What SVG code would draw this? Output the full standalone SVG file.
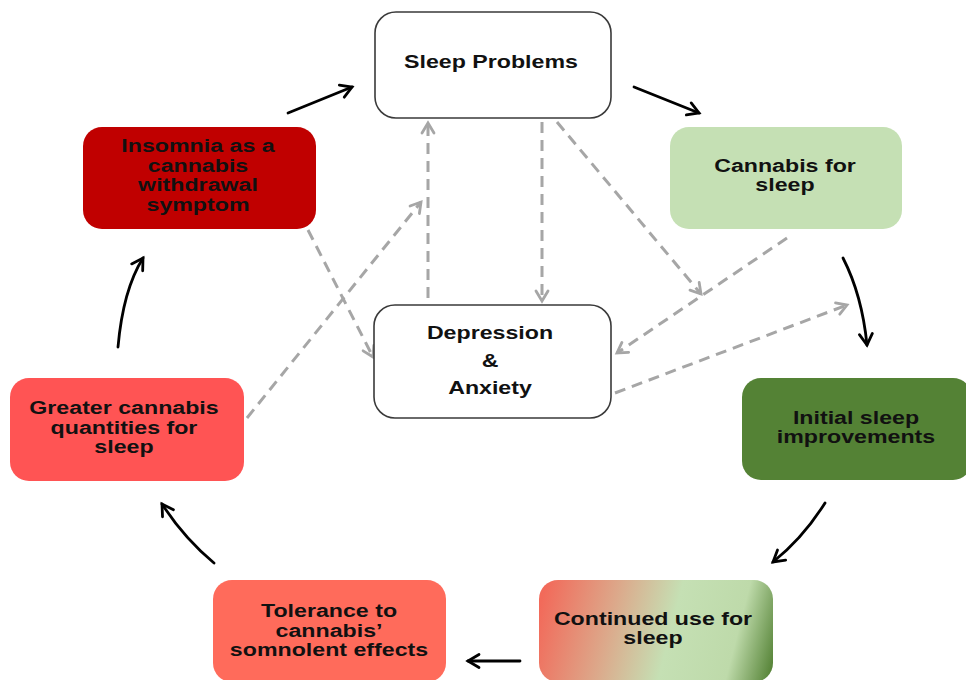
<svg xmlns="http://www.w3.org/2000/svg" width="966" height="680" viewBox="0 0 966 680">
<style>
.lbl{font-family:"Liberation Sans",Arial,sans-serif;font-weight:bold;font-size:19px;fill:#111;text-anchor:middle}
.outline{fill:#fff;stroke:#3a3a3a;stroke-width:1.6}
.solid{fill:none;stroke:#000;stroke-width:2.8;stroke-linecap:round}
.dash{fill:none;stroke:#a6a6a6;stroke-width:3;stroke-dasharray:11 7}
</style>
<defs>
<marker id="ab" markerUnits="userSpaceOnUse" markerWidth="20" markerHeight="20" viewBox="-12 -10 14 20" refX="0" refY="0" orient="auto">
<path d="M-11,-6.5 L0,0 L-11,6.5" fill="none" stroke="#000" stroke-width="2.8" stroke-linecap="round" stroke-linejoin="miter"/>
</marker>
<marker id="ag" markerUnits="userSpaceOnUse" markerWidth="20" markerHeight="20" viewBox="-12 -10 14 20" refX="0" refY="0" orient="auto">
<path d="M-10,-6 L0,0 L-10,6" fill="none" stroke="#a6a6a6" stroke-width="2.8" stroke-linecap="round"/>
</marker>
<linearGradient id="grad" gradientUnits="userSpaceOnUse" x1="539" y1="610" x2="773" y2="670">
<stop offset="0" stop-color="#f26a5a"/>
<stop offset="0.3" stop-color="#dca98b"/>
<stop offset="0.55" stop-color="#c5e0b4"/>
<stop offset="0.82" stop-color="#bedaaa"/>
<stop offset="1" stop-color="#548235"/>
</linearGradient>
</defs>

<g id="connectors">
<path class="solid" d="M288,113 L352,87" marker-end="url(#ab)"/>
<path class="solid" d="M634,87 L699,113" marker-end="url(#ab)"/>
<path class="solid" d="M843,258 Q862,295 867,345" marker-end="url(#ab)"/>
<path class="solid" d="M825,503 Q803,538 773,562" marker-end="url(#ab)"/>
<path class="solid" d="M520,661 L468,661" marker-end="url(#ab)"/>
<path class="solid" d="M214,563 Q184,538 162,504" marker-end="url(#ab)"/>
<path class="solid" d="M118,347 Q123,290 143,258" marker-end="url(#ab)"/>

<path class="dash" d="M428,298 L428,123" marker-end="url(#ag)"/>
<path class="dash" d="M542,122 L542,301" marker-end="url(#ag)"/>
<path class="dash" d="M557,122 L701,294" marker-end="url(#ag)"/>
<path class="dash" d="M787,238 L617,353" marker-end="url(#ag)"/>
<path class="dash" d="M615,393 L847,305" marker-end="url(#ag)"/>
<path class="dash" d="M308,230 L373,357" marker-end="url(#ag)"/>
<path class="dash" d="M247,418 L421,202" marker-end="url(#ag)"/>
</g>

<g id="sleep-problems">
<rect class="outline" x="375" y="12" width="236" height="106" rx="21"/>
<text class="lbl" transform="matrix(1.22 0 0 1 491 0)" x="0" y="68">Sleep Problems</text>
</g>

<g id="depression-anxiety">
<rect class="outline" x="374" y="305" width="237" height="113" rx="21"/>
<text class="lbl" transform="matrix(1.22 0 0 1 490 0)"><tspan x="0" y="339">Depression</tspan><tspan x="0" y="367">&amp;</tspan><tspan x="0" y="394">Anxiety</tspan></text>
</g>

<g id="insomnia">
<rect x="83" y="127" width="233" height="102" rx="19" fill="#c00000"/>
<text class="lbl" transform="matrix(1.22 0 0 1 198 0)"><tspan x="0" y="152">Insomnia as a</tspan><tspan x="0" y="172">cannabis</tspan><tspan x="0" y="191">withdrawal</tspan><tspan x="0" y="211">symptom</tspan></text>
</g>

<g id="cannabis-for-sleep">
<rect x="670" y="127" width="232" height="102" rx="19" fill="#c5e0b4"/>
<text class="lbl" transform="matrix(1.22 0 0 1 785 0)"><tspan x="0" y="172">Cannabis for</tspan><tspan x="0" y="191">sleep</tspan></text>
</g>

<g id="initial-sleep-improvements">
<rect x="742" y="378" width="230" height="102" rx="19" fill="#548235"/>
<text class="lbl" transform="matrix(1.22 0 0 1 856 0)"><tspan x="0" y="424">Initial sleep</tspan><tspan x="0" y="443">improvements</tspan></text>
</g>

<g id="continued-use">
<rect x="539" y="580" width="234" height="102" rx="19" fill="url(#grad)"/>
<text class="lbl" transform="matrix(1.22 0 0 1 653 0)"><tspan x="0" y="625">Continued use for</tspan><tspan x="0" y="644">sleep</tspan></text>
</g>

<g id="tolerance">
<rect x="213" y="580" width="233" height="102" rx="19" fill="#ff6b5b"/>
<text class="lbl" transform="matrix(1.22 0 0 1 329 0)"><tspan x="0" y="617">Tolerance to</tspan><tspan x="0" y="637">cannabis’</tspan><tspan x="0" y="656">somnolent effects</tspan></text>
</g>

<g id="greater-quantities">
<rect x="10" y="378" width="234" height="103" rx="19" fill="#ff5454"/>
<text class="lbl" transform="matrix(1.22 0 0 1 124 0)"><tspan x="0" y="414">Greater cannabis</tspan><tspan x="0" y="434">quantities for</tspan><tspan x="0" y="453">sleep</tspan></text>
</g>
</svg>
